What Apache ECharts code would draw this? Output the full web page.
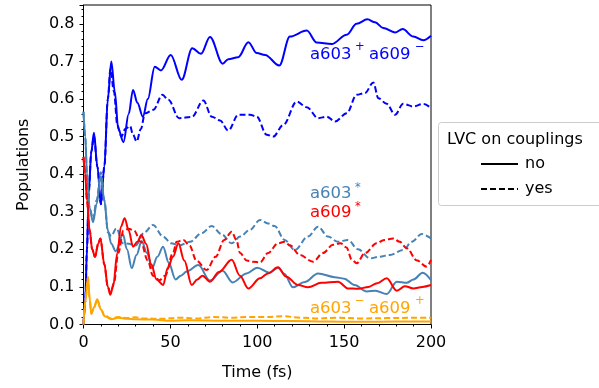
<!DOCTYPE html>
<html>
<head>
<meta charset="utf-8">
<script src="https://cdn.jsdelivr.net/npm/echarts@6/dist/echarts.min.js"></script>
<style>
  html, body { margin: 0; padding: 0; background: #fff; }
  #main { width: 599px; height: 388px; }
</style>
</head>
<body>
<div id="main"></div>
<script>
// time axis (fs) and populations
const xTicks = [0, 50, 100, 150, 200];
const yTicks = [0.0, 0.1, 0.2, 0.3, 0.4, 0.5, 0.6, 0.7, 0.8];

// a603+ a609-  (blue)
const tBlueNo = [0, 1, 2, 3, 4.5, 6, 8, 10, 12, 14, 16, 18, 20, 23, 26, 28.5, 31, 34.2, 37, 41, 44.6, 50.2, 56.5, 62.6, 67.6, 72.8, 80.1, 83.3, 89, 94.9, 99.7, 104.5, 112.7, 118.8, 128.5, 134.2, 142.8, 151.5, 157.2, 163.4, 167.8, 172.5, 179.3, 183.7, 189.8, 195.6, 200];
const popBlueNo = [0, 0.06, 0.2, 0.35, 0.46, 0.51, 0.42, 0.32, 0.42, 0.6, 0.7, 0.62, 0.52, 0.485, 0.56, 0.624, 0.59, 0.553, 0.6, 0.686, 0.676, 0.717, 0.651, 0.735, 0.72, 0.765, 0.694, 0.706, 0.711, 0.751, 0.722, 0.717, 0.689, 0.766, 0.782, 0.75, 0.746, 0.771, 0.8, 0.812, 0.804, 0.789, 0.777, 0.786, 0.766, 0.756, 0.768];
const tBlueYes = [0, 1, 2, 3, 4.5, 6, 8, 10, 12, 14, 15.5, 17.5, 19.5, 21.8, 24, 26.8, 28.5, 30.6, 33, 35.4, 40.2, 45.4, 48.8, 55, 62.3, 69, 73.8, 78.6, 83.3, 89.1, 95.8, 99.7, 105.4, 109.2, 115, 122.7, 128.5, 135.1, 140, 144.8, 151.5, 157.2, 162, 166.8, 169.7, 174.5, 179.3, 184, 189.8, 195.6, 200];
const popBlueYes = [0, 0.06, 0.2, 0.35, 0.46, 0.5, 0.42, 0.32, 0.42, 0.6, 0.68, 0.62, 0.53, 0.5, 0.52, 0.528, 0.505, 0.487, 0.52, 0.562, 0.571, 0.611, 0.598, 0.549, 0.552, 0.596, 0.553, 0.543, 0.516, 0.558, 0.558, 0.553, 0.505, 0.5, 0.531, 0.593, 0.578, 0.549, 0.553, 0.54, 0.562, 0.611, 0.616, 0.644, 0.602, 0.587, 0.558, 0.587, 0.58, 0.587, 0.576];

// a603*  (steelblue)
const tSteelNo = [0, 1, 2, 3.5, 5.5, 7.5, 10, 12, 14, 16, 18.5, 22.7, 25, 27.8, 30.5, 33.5, 36.5, 39.5, 42.5, 45.8, 49, 53, 56, 59.4, 66.1, 72.8, 80, 85.8, 93.9, 100, 107, 112, 115.5, 120.6, 127.3, 135, 144.6, 150, 156, 163, 168, 174.5, 180.3, 186, 190, 195.2, 200];
const popSteelNo = [0.566, 0.5, 0.4, 0.31, 0.272, 0.32, 0.395, 0.33, 0.25, 0.215, 0.195, 0.24, 0.2, 0.15, 0.185, 0.222, 0.19, 0.15, 0.18, 0.207, 0.165, 0.12, 0.13, 0.141, 0.158, 0.117, 0.143, 0.112, 0.136, 0.151, 0.138, 0.151, 0.135, 0.099, 0.113, 0.136, 0.126, 0.122, 0.105, 0.088, 0.09, 0.081, 0.114, 0.111, 0.12, 0.138, 0.118];
const tSteelYes = [0, 1, 2, 3.5, 5.5, 7.5, 10, 12, 14.1, 16, 18.9, 22.7, 26, 30, 35, 40, 45.8, 50.5, 55, 61.3, 68, 73.8, 79.5, 85.3, 90.1, 95.8, 101.6, 106.2, 110, 115.8, 121.6, 129.2, 135, 140.7, 146.5, 152.2, 158, 164.9, 170, 176.4, 184, 189, 194.6, 200];
const popSteelYes = [0.566, 0.5, 0.4, 0.31, 0.28, 0.33, 0.405, 0.33, 0.245, 0.235, 0.256, 0.216, 0.215, 0.21, 0.245, 0.265, 0.234, 0.216, 0.21, 0.22, 0.243, 0.262, 0.24, 0.216, 0.234, 0.252, 0.278, 0.269, 0.262, 0.225, 0.198, 0.234, 0.26, 0.234, 0.22, 0.225, 0.2, 0.176, 0.18, 0.185, 0.198, 0.22, 0.241, 0.229];

// a609*  (red)
const tRedNo = [0, 1, 2, 3.5, 5, 6.6, 8.5, 9.7, 12, 14, 15.4, 17, 19.5, 21.5, 23.7, 26, 28.5, 31, 33.3, 36, 39, 42, 45.8, 48.5, 51.5, 54.6, 58, 62.3, 65.5, 68.5, 72.8, 78, 85.3, 90, 94.9, 101.6, 106.2, 111.9, 116.7, 123.5, 129.2, 136.9, 146.5, 152.2, 158, 164, 169, 174.5, 180.3, 185, 189.8, 195, 200];
const popRedNo = [0.446, 0.4, 0.33, 0.252, 0.2, 0.18, 0.215, 0.229, 0.16, 0.1, 0.079, 0.1, 0.19, 0.26, 0.283, 0.25, 0.207, 0.22, 0.238, 0.215, 0.16, 0.12, 0.105, 0.15, 0.18, 0.216, 0.17, 0.105, 0.12, 0.13, 0.114, 0.14, 0.172, 0.13, 0.096, 0.123, 0.136, 0.152, 0.127, 0.105, 0.099, 0.111, 0.114, 0.096, 0.095, 0.1, 0.11, 0.123, 0.09, 0.102, 0.096, 0.1, 0.105];
const tRedYes = [0, 1, 2, 3.5, 5, 6.6, 8.5, 9.7, 12, 14, 15.6, 17.5, 20, 23, 26, 29, 33, 37, 40, 43.8, 47, 51.5, 53.6, 57.5, 61, 65, 70.9, 76, 81, 85.3, 88, 90.1, 94, 97.7, 101.6, 106.2, 111.9, 115.8, 119, 124.4, 132.1, 137.8, 143.6, 148, 151.3, 154.5, 157.2, 162, 168.7, 173, 178.3, 182, 186, 192, 197.5, 200];
const popRedYes = [0.446, 0.4, 0.33, 0.252, 0.2, 0.18, 0.215, 0.229, 0.16, 0.1, 0.085, 0.11, 0.19, 0.25, 0.255, 0.25, 0.22, 0.17, 0.13, 0.118, 0.13, 0.19, 0.22, 0.225, 0.21, 0.17, 0.145, 0.18, 0.225, 0.247, 0.225, 0.19, 0.17, 0.167, 0.165, 0.19, 0.216, 0.22, 0.21, 0.185, 0.167, 0.19, 0.212, 0.216, 0.205, 0.172, 0.163, 0.19, 0.216, 0.225, 0.229, 0.22, 0.203, 0.17, 0.154, 0.172];

// a603- a609+  (orange)
const tOrangeNo = [0, 1, 2.6, 3.5, 4.5, 6, 7.9, 10, 12.2, 16, 20, 25, 30, 40, 50, 60, 80, 100, 120, 140, 160, 180, 200];
const popOrangeNo = [0, 0.06, 0.127, 0.07, 0.028, 0.045, 0.067, 0.04, 0.022, 0.014, 0.018, 0.015, 0.014, 0.013, 0.01, 0.011, 0.01, 0.01, 0.009, 0.008, 0.007, 0.008, 0.008];
const tOrangeYes = [0, 1, 2.6, 3.5, 4.5, 6, 7.9, 10, 12.2, 16, 20, 25, 30, 35, 45, 55, 65, 75, 85, 95, 105, 115, 125, 135, 145, 160, 175, 190, 200];
const popOrangeYes = [0, 0.06, 0.125, 0.07, 0.03, 0.045, 0.065, 0.04, 0.024, 0.016, 0.02, 0.017, 0.019, 0.016, 0.015, 0.018, 0.016, 0.02, 0.018, 0.02, 0.02, 0.022, 0.018, 0.016, 0.018, 0.016, 0.017, 0.018, 0.018];

const legendNames = ['no', 'yes'];

function pairs(t, v) {
  return t.map((x, i) => [x, v[i]]);
}

const font = 'DejaVu Sans';
const dash = [6, 3];

function line(t, v, color, dashed) {
  return {
    type: 'line',
    data: pairs(t, v),
    showSymbol: false,
    symbol: 'none',
    smooth: 0.35,
    smoothMonotone: 'x',
    clip: true,
    lineStyle: { color: color, width: 2, type: dashed ? dash : 'solid' },
    z: 3
  };
}

const chart = echarts.init(document.getElementById('main'), null, { renderer: 'canvas' });

const option = {
  animation: false,
  backgroundColor: '#fff',
  textStyle: { fontFamily: font },
  grid: {
    left: 83.5, right: 168, top: 5, bottom: 63.5,
    show: true, borderColor: '#000', borderWidth: 1, backgroundColor: 'transparent'
  },
  legend: {
    data: legendNames,
    orient: 'vertical',
    left: 480,
    top: 156,
    padding: 0,
    itemWidth: 37,
    itemHeight: 16,
    itemGap: 9,
    itemStyle: { opacity: 0 },
    textStyle: { fontFamily: font, fontSize: 16, color: '#000', lineHeight: 16, padding: [0, 0, 0, 2] },
    selectedMode: false
  },
  xAxis: {
    type: 'value',
    min: 0, max: 200, interval: 50,
    name: 'Time (fs)',
    nameLocation: 'middle',
    nameGap: 40,
    nameTextStyle: { fontFamily: font, fontSize: 16, color: '#000' },
    axisLine: { show: true, lineStyle: { color: '#000', width: 1 } },
    axisTick: { show: true, length: 4, lineStyle: { color: '#000' } },
    minorTick: { show: true, splitNumber: 5, length: 2, lineStyle: { color: '#000' } },
    axisLabel: { fontFamily: font, fontSize: 16, color: '#000', margin: 10,
      formatter: v => xTicks.indexOf(v) >= 0 ? String(v) : '' },
    splitLine: { show: false }
  },
  yAxis: {
    type: 'value',
    min: 0, max: 0.85, interval: 0.1,
    name: 'Populations',
    nameLocation: 'middle',
    nameGap: 52,
    nameTextStyle: { fontFamily: font, fontSize: 16, color: '#000' },
    axisLine: { show: true, lineStyle: { color: '#000', width: 1 } },
    axisTick: { show: true, length: 4, lineStyle: { color: '#000' } },
    minorTick: { show: true, splitNumber: 5, length: 2, lineStyle: { color: '#000' } },
    axisLabel: { fontFamily: font, fontSize: 16, color: '#000', margin: 9, showMaxLabel: false,
      formatter: v => {
        const hit = yTicks.find(y => Math.abs(y - v) < 1e-6);
        return hit === undefined ? '' : hit.toFixed(1);
      } },
    splitLine: { show: false }
  },
  series: [
    line(tBlueNo, popBlueNo, '#0000ff', false),
    line(tBlueYes, popBlueYes, '#0000ff', true),
    line(tSteelNo, popSteelNo, '#4682b4', false),
    line(tSteelYes, popSteelYes, '#4682b4', true),
    line(tRedNo, popRedNo, '#ff0000', false),
    line(tRedYes, popRedYes, '#ff0000', true),
    line(tOrangeNo, popOrangeNo, '#ffa500', false),
    line(tOrangeYes, popOrangeYes, '#ffa500', true),
    { name: 'no', type: 'line', data: [], symbol: 'none', color: '#000',
      lineStyle: { color: '#000', width: 2, type: 'solid' } },
    { name: 'yes', type: 'line', data: [], symbol: 'none', color: '#000',
      lineStyle: { color: '#000', width: 2, type: dash } }
  ],
  graphic: [
    { type: 'rect', left: 438, top: 122, z: 0,
      shape: { width: 175, height: 83, r: 3 },
      style: { fill: '#fff', stroke: '#cccccc', lineWidth: 1 } },
    { type: 'text', left: 447, top: 132, z: 10,
      style: { text: 'LVC on couplings', fontFamily: font, fontSize: 16, fill: '#000' } },

    // curve labels
    { type: 'text', left: 310, top: 46, style: { text: 'a603', fontFamily: font, fontSize: 16.5, fill: '#0000ff' } },
    { type: 'text', left: 355, top: 41, style: { text: '+', fontFamily: font, fontSize: 11.5, fill: '#0000ff' } },
    { type: 'text', left: 369, top: 46, style: { text: 'a609', fontFamily: font, fontSize: 16.5, fill: '#0000ff' } },
    { type: 'text', left: 415, top: 41, style: { text: '\u2212', fontFamily: font, fontSize: 11.5, fill: '#0000ff' } },

    { type: 'text', left: 310, top: 185, style: { text: 'a603', fontFamily: font, fontSize: 16.5, fill: '#4682b4' } },
    { type: 'text', left: 355, top: 182, style: { text: '*', fontFamily: font, fontSize: 11.5, fill: '#4682b4' } },
    { type: 'text', left: 310, top: 204, style: { text: 'a609', fontFamily: font, fontSize: 16.5, fill: '#ff0000' } },
    { type: 'text', left: 355, top: 201, style: { text: '*', fontFamily: font, fontSize: 11.5, fill: '#ff0000' } },

    { type: 'text', left: 310, top: 300, style: { text: 'a603', fontFamily: font, fontSize: 16.5, fill: '#ffa500' } },
    { type: 'text', left: 355, top: 295, style: { text: '\u2212', fontFamily: font, fontSize: 11.5, fill: '#ffa500' } },
    { type: 'text', left: 369, top: 300, style: { text: 'a609', fontFamily: font, fontSize: 16.5, fill: '#ffa500' } },
    { type: 'text', left: 415, top: 295, style: { text: '+', fontFamily: font, fontSize: 11.5, fill: '#ffa500' } }
  ]
};

chart.setOption(option);
</script>
</body>
</html>
